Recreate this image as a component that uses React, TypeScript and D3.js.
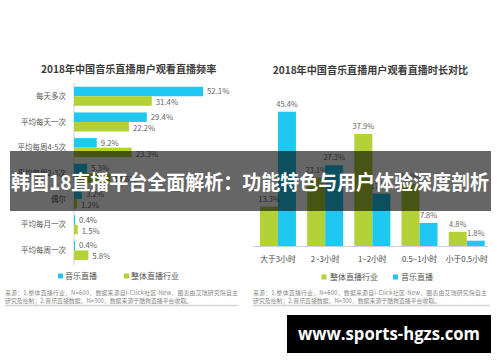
import React from 'react';
import * as d3 from 'd3';

// left chart: viewing frequency
const freqCats = ['每天多次', '平均每天一次', '平均每周4-5次', '平均每周2-3次', '偶尔', '平均每月一次', '平均每周一次'];
const freqMusic = [52.1, 29.4, 9.2, 5.3, 3.2, 0.4, 0.4];
const freqIndustry = [31.4, 22.2, 23.3, 14.6, 1.2, 1.5, 5.8];

// right chart: viewing duration
const durCats = ['大于3小时', '2~3小时', '1~2小时', '0.5~1小时', '小于0.5小时'];
const durIndustry = [13.3, 23.1, 37.9, 20.9, 4.8];
const durMusic = [45.4, 27.3, 17.7, 7.8, 1.8];

const titleLeft = '2018年中国音乐直播用户观看直播频率';
const titleRight = '2018年中国音乐直播用户观看直播时长对比';
const sourceLines = [
  '来源：1.整体直播行业，N=600，数据来源自i-Click社区-New，图表由艾瑞研究院自主',
  '研究及绘制；2.音乐直播数据，N=300，数据来源于酷狗直播平台收取。',
];
const banner = '韩国18直播平台全面解析：功能特色与用户体验深度剖析';
const watermark = 'www.sports-hgzs.com';

const BLUE = '#1fc8f1';
const GREEN = '#b2d235';
const FONT = '"Noto Sans CJK SC", "Noto Sans", sans-serif';

const App: React.FC = () => {
  const width = 500;
  const height = 362;

  // left chart scales
  const yL = d3.scaleBand<string>().domain(freqCats).range([83.4, 263.3]).paddingInner(0.26).paddingOuter(0.13);
  const yLInner = d3.scaleBand<string>().domain(['music', 'industry']).range([0, yL.bandwidth()]);
  const xL = d3.scaleLinear().domain([0, 100]).range([74, 321.6]);

  // right chart scales
  const xR = d3.scaleBand<string>().domain(durCats).range([254.3, 490.4]).paddingInner(0.237).paddingOuter(0.12);
  const xRInner = d3.scaleBand<string>().domain(['industry', 'music']).range([0, xR.bandwidth()]);
  const yR = d3.scaleLinear().domain([0, 100]).range([246, 246 - 295.8]);

  const fmt = (v: number) => `${v.toFixed(1)}%`;

  return (
    <svg width={width} height={height} style={{ position: 'absolute', left: 0, top: 0, background: '#fff' }} fontFamily={FONT}>
      <rect width={width} height={height} fill="#fff" />

      {/* left chart */}
      <text x={128.7} y={73} textAnchor="middle" fontSize={10.1} fontWeight="bold" fill="#3a3a3a">{titleLeft}</text>
      <line x1={74} x2={74} y1={83} y2={265} stroke="#cfd6dc" strokeWidth={1} />
      {freqCats.map((c, i) => {
        const y0 = yL(c) as number;
        const bh = yLInner.bandwidth();
        const yM = y0 + (yLInner('music') as number);
        const yI = y0 + (yLInner('industry') as number);
        return (
          <g key={c}>
            <text x={66} y={y0 + yL.bandwidth() / 2} dy="0.35em" textAnchor="end" fontSize={7.5} fill="#555">{c}</text>
            <rect x={xL(0)} y={yM} width={xL(freqMusic[i]) - xL(0)} height={bh} fill={BLUE} />
            <rect x={xL(0)} y={yI} width={xL(freqIndustry[i]) - xL(0)} height={bh} fill={GREEN} />
            <text x={xL(freqMusic[i]) + 4} y={yM + bh / 2} dy="0.35em" fontSize={7.8} fill="#666">{fmt(freqMusic[i])}</text>
            <text x={xL(freqIndustry[i]) + 4} y={yI + bh / 2 + 1.5} dy="0.35em" fontSize={7.8} fill="#666">{fmt(freqIndustry[i])}</text>
          </g>
        );
      })}
      <rect x={58} y={273.5} width={5} height={5} fill={BLUE} />
      <text x={65} y={276} dy="0.35em" fontSize={8} fill="#555">音乐直播</text>
      <rect x={124} y={273.5} width={5} height={5} fill={GREEN} />
      <text x={131} y={276} dy="0.35em" fontSize={8} fill="#555">整体直播行业</text>
      {sourceLines.map((s, i) => (
        <text key={i} x={5} y={293 + i * 7.5} dy="0.35em" fontSize={5.9} fill="#888" textLength={i === 0 ? 233 : undefined}>{s}</text>
      ))}
      <line x1={5} x2={238} y1={305.5} y2={305.5} stroke="#d4d4d4" strokeWidth={1.5} />

      {/* right chart */}
      <text x={370.5} y={74} textAnchor="middle" fontSize={10.1} fontWeight="bold" fill="#3a3a3a">{titleRight}</text>
      {durCats.map((c, i) => {
        const x0 = xR(c) as number;
        const bw = xRInner.bandwidth();
        const xI = x0 + (xRInner('industry') as number);
        const xM = x0 + (xRInner('music') as number);
        return (
          <g key={c}>
            <rect x={xI} y={yR(durIndustry[i])} width={bw} height={yR(0) - yR(durIndustry[i])} fill={GREEN} />
            <rect x={xM} y={yR(durMusic[i])} width={bw} height={yR(0) - yR(durMusic[i])} fill={BLUE} />
            <text x={xI + bw / 2} y={yR(durIndustry[i]) - 5} textAnchor="middle" fontSize={7.5} fill="#666">{fmt(durIndustry[i])}</text>
            <text x={xM + bw / 2} y={yR(durMusic[i]) - 5} textAnchor="middle" fontSize={7.5} fill="#666">{fmt(durMusic[i])}</text>
            <text x={x0 + xR.bandwidth() / 2} y={259.5} dy="0.35em" textAnchor="middle" fontSize={7.8} fill="#444">{c}</text>
          </g>
        );
      })}
      <line x1={253} x2={488} y1={246.5} y2={246.5} stroke="#d0d0d0" strokeWidth={1} />
      <rect x={321.5} y={274.5} width={5} height={5} fill={GREEN} />
      <text x={330} y={277} dy="0.35em" fontSize={8} fill="#555">整体直播行业</text>
      <rect x={393} y={274.5} width={5} height={5} fill={BLUE} />
      <text x={401} y={277} dy="0.35em" fontSize={8} fill="#555">音乐直播</text>
      {sourceLines.map((s, i) => (
        <text key={i} x={253} y={293 + i * 7.5} dy="0.35em" fontSize={5.9} fill="#888" textLength={i === 0 ? 234 : undefined}>{s}</text>
      ))}
      <line x1={253} x2={490} y1={305.5} y2={305.5} stroke="#d4d4d4" strokeWidth={1.5} />

      {/* overlay banner */}
      <rect x={10} y={151} width={481} height={60} fill="#000" fillOpacity={0.6} />
      <text x={11} y={190} fontSize={20} fontWeight="bold" fill="#fff" textLength={478} lengthAdjust="spacingAndGlyphs">{banner}</text>

      {/* watermark */}
      <rect x={287} y={315} width={204} height={38} fill="#000" />
      <text x={389} y={340} textAnchor="middle" fontSize={17} fontWeight="bold" fill="#fff" fontFamily='"Open Sans", "Noto Sans", sans-serif' textLength={182} lengthAdjust="spacingAndGlyphs">{watermark}</text>
    </svg>
  );
};

export default App;
